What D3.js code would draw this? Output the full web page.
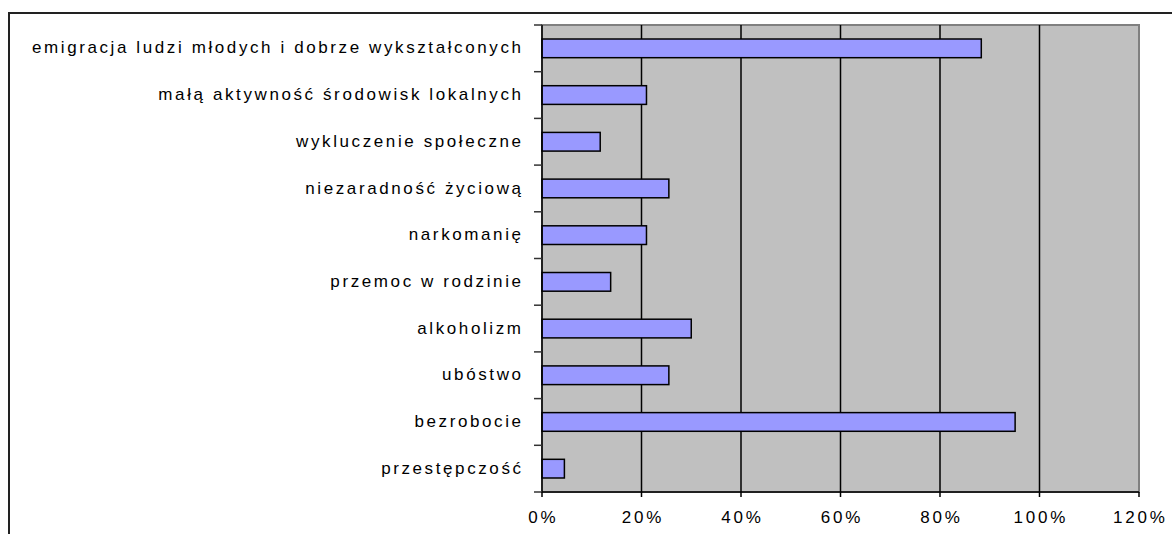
<!DOCTYPE html>
<html lang="pl">

<head>
  <meta charset="UTF-8" />
  <script src="https://d3js.org/d3.v7.min.js"></script>
  <title>Problemy</title>
  <style>
    body { margin: 0; background: #fff; }
    text { font-family: Arial, "Liberation Sans", sans-serif; fill: #000; }
  </style>
</head>

<body>
  <svg width="1172" height="534"></svg>

  <script>
    // Data (top to bottom)
    const categories = [
      "emigracja ludzi młodych i dobrze wykształconych",
      "małą aktywność środowisk lokalnych",
      "wykluczenie społeczne",
      "niezaradność życiową",
      "narkomanię",
      "przemoc w rodzinie",
      "alkoholizm",
      "ubóstwo",
      "bezrobocie",
      "przestępczość"
    ];
    const values = [88.3, 21.0, 11.7, 25.5, 21.0, 13.8, 30.0, 25.5, 95.1, 4.5];
    const xTicks = [0, 20, 40, 60, 80, 100, 120];

    const svg = d3.select("svg");

    // outer frame (continues past the window)
    svg.append("rect")
      .attr("x", 9).attr("y", 13)
      .attr("width", 1200).attr("height", 560)
      .attr("fill", "#fff")
      .attr("stroke", "#222")
      .attr("stroke-width", 2);

    const plot = { left: 542, right: 1139, top: 25, bottom: 492 };

    const x = d3.scaleLinear()
      .domain([0, 120])
      .range([plot.left, plot.right]);

    const y = d3.scaleBand()
      .domain(categories)
      .range([plot.top, plot.bottom])
      .paddingInner(0)
      .paddingOuter(0);

    // plot background
    svg.append("rect")
      .attr("x", plot.left).attr("y", plot.top)
      .attr("width", plot.right - plot.left)
      .attr("height", plot.bottom - plot.top)
      .attr("fill", "#c0c0c0")
      .attr("stroke", "#808080")
      .attr("stroke-width", 2);

    // gridlines
    svg.append("g")
      .selectAll("line")
      .data(xTicks.slice(1, -1))
      .join("line")
      .attr("x1", d => x(d)).attr("x2", d => x(d))
      .attr("y1", plot.top).attr("y2", plot.bottom)
      .attr("stroke", "#000")
      .attr("stroke-width", 1.5);

    // bars
    const barH = y.bandwidth() / 2.5;
    svg.append("g")
      .selectAll("rect")
      .data(values)
      .join("rect")
      .attr("x", x(0))
      .attr("y", (d, i) => y(categories[i]) + (y.bandwidth() - barH) / 2)
      .attr("width", d => x(d) - x(0))
      .attr("height", barH)
      .attr("fill", "#9999ff")
      .attr("stroke", "#000")
      .attr("stroke-width", 1.5);

    // y axis line + ticks at band boundaries
    svg.append("line")
      .attr("x1", plot.left).attr("x2", plot.left)
      .attr("y1", plot.top).attr("y2", plot.bottom)
      .attr("stroke", "#000").attr("stroke-width", 1.5);

    const bounds = categories.map(c => y(c)).concat([plot.bottom]);
    svg.append("g")
      .selectAll("line")
      .data(bounds)
      .join("line")
      .attr("x1", plot.left - 8).attr("x2", plot.left)
      .attr("y1", d => d).attr("y2", d => d)
      .attr("stroke", "#333").attr("stroke-width", 1.5);

    // x axis line + ticks
    svg.append("line")
      .attr("x1", plot.left).attr("x2", plot.right)
      .attr("y1", plot.bottom).attr("y2", plot.bottom)
      .attr("stroke", "#000").attr("stroke-width", 1.5);

    svg.append("g")
      .selectAll("line")
      .data(xTicks)
      .join("line")
      .attr("x1", d => x(d)).attr("x2", d => x(d))
      .attr("y1", plot.bottom).attr("y2", plot.bottom + 5)
      .attr("stroke", "#000").attr("stroke-width", 1.5);

    // category labels
    const ls = 2.6;
    svg.append("g")
      .selectAll("text")
      .data(categories)
      .join("text")
      .attr("x", 521 + ls)
      .attr("y", d => y(d) + y.bandwidth() / 2)
      .attr("dy", "0.3em")
      .attr("text-anchor", "end")
      .attr("font-size", 17)
      .attr("letter-spacing", ls)
      .text(d => d);

    // x tick labels
    const tls = 2.8;
    svg.append("g")
      .selectAll("text")
      .data(xTicks)
      .join("text")
      .attr("x", d => x(d) + tls / 2)
      .attr("y", 518)
      .attr("dy", "0.3em")
      .attr("text-anchor", "middle")
      .attr("font-size", 17)
      .attr("letter-spacing", tls)
      .text(d => d + "%");
  </script>
</body>

</html>
